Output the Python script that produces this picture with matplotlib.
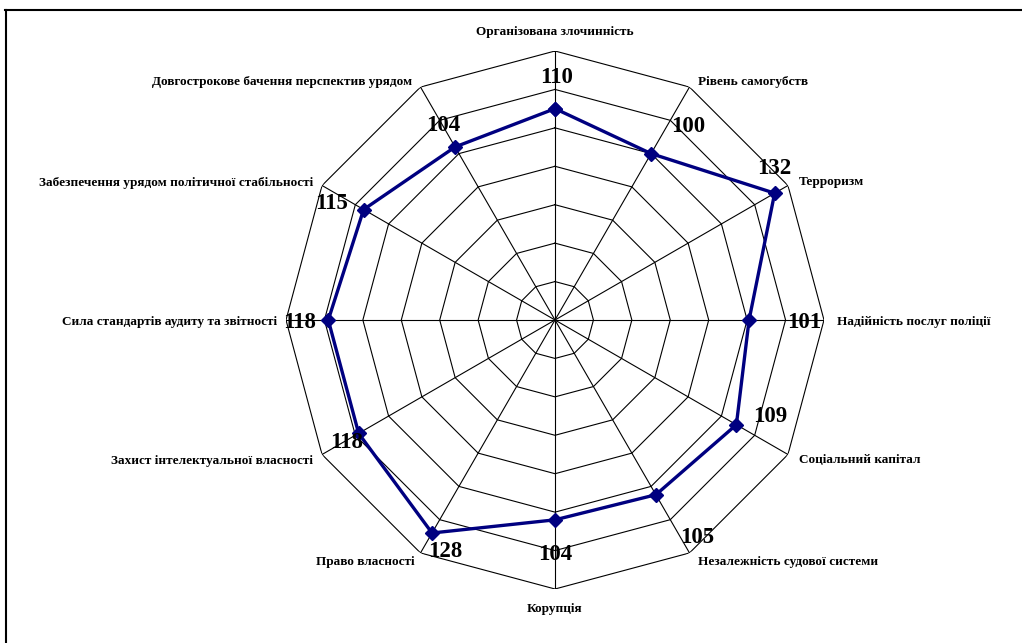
import numpy as np
import matplotlib
matplotlib.use('Agg')
import matplotlib.pyplot as plt
from matplotlib.lines import Line2D

plt.rcParams['font.family'] = ['Liberation Serif', 'DejaVu Serif']
plt.rcParams['font.weight'] = 'bold'

# дані
categories = ['Організована злочинність', 'Рівень самогубств', 'Терроризм',
              'Надійність послуг поліції', 'Соціальний капітал',
              'Незалежність судової системи', 'Корупція', 'Право власності',
              'Захист інтелектуальної власності',
              'Сила стандартів аудиту та звітності',
              'Забезпечення урядом політичної стабільності',
              'Довгострокове бачення перспектив урядом']
values = [110, 100, 132, 101, 109, 105, 104, 128, 118, 118, 115, 104]
rings = [20, 40, 60, 80, 100, 120, 140]

n = len(categories)
theta = np.linspace(0, 2 * np.pi, n, endpoint=False)

W, H = 1022, 643
fig = plt.figure(figsize=(W / 100, H / 100), dpi=100)
cx, cy, R = 555, 320, 269
ax = fig.add_axes([(cx - R) / W, (H - cy - R) / H, 2 * R / W, 2 * R / H],
                  projection='polar')
ax.set_theta_zero_location('N')
ax.set_theta_direction(-1)
ax.set_ylim(0, 140)
ax.grid(False)
ax.set_xticks([])
ax.set_yticks([])
ax.spines['polar'].set_visible(False)
ax.patch.set_alpha(0)

# сітка
th_closed = np.append(theta, theta[0])
for r in rings:
    ax.plot(th_closed, [r] * (n + 1), color='black', lw=0.8, zorder=1)
for t in theta:
    ax.plot([t, t], [0, rings[-1]], color='black', lw=0.8, zorder=1)

# дані
vals_closed = values + values[:1]
ax.plot(th_closed, vals_closed, color='#000080', lw=2.4, marker='D',
        markersize=7, zorder=3, clip_on=False)

# підписи значень (зсув у пікселях)
val_off = [(2, -31), (37, -27), (0, -25), (55, 2), (34, -8), (41, 43),
           (0, 35), (13, 19), (-12, 9), (-29, 2), (-32, -6), (-12, -21)]
for t, v, (dx, dy) in zip(theta, values, val_off):
    ax.annotate(str(v), (t, v), xytext=(dx * 0.72, -dy * 0.72),
                textcoords='offset points', ha='center', va='center',
                fontsize=16.5, fontweight='bold', annotation_clip=False)

# підписи категорій
cat_pos = [((0, -19), 'center'), ((9, -5), 'left'), ((11, -3), 'left'),
           ((13, 2), 'left'), ((11, 6), 'left'), ((9, 9), 'left'),
           ((0, 20), 'center'), ((-6, 9), 'right'), ((-9, 6), 'right'),
           ((-9, 2), 'right'), ((-9, -3), 'right'), ((-8, -5), 'right')]
for t, c, ((dx, dy), ha) in zip(theta, categories, cat_pos):
    ax.annotate(c, (t, rings[-1]), xytext=(dx * 0.72, -dy * 0.72),
                textcoords='offset points', ha=ha, va='center',
                fontsize=9.5, fontweight='bold', annotation_clip=False)

# рамка
fig.add_artist(Line2D([5 / W, 1.0], [1 - 10 / H, 1 - 10 / H],
                      transform=fig.transFigure, color='black', lw=1.5))
fig.add_artist(Line2D([6 / W, 6 / W], [0, 1 - 10 / H],
                      transform=fig.transFigure, color='black', lw=1.5))

fig.savefig('out.png', dpi=100)
